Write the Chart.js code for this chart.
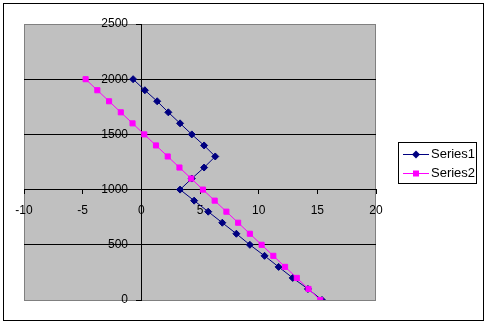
<!DOCTYPE html>
<html>
<head>
<meta charset="utf-8">
<script src="https://cdn.jsdelivr.net/npm/chart.js@4/dist/chart.umd.min.js"></script>
<style>
  html, body { margin: 0; padding: 0; background: #fff; }
  #wrap { width: 490px; height: 326px; }
</style>
</head>
<body>
<div id="wrap"><canvas id="chart" width="490" height="326"></canvas></div>
<script>
const seriesNames = ['Series1', 'Series2'];
const yValues = [2000, 1900, 1800, 1700, 1600, 1500, 1400, 1300, 1200, 1100, 1000, 900, 800, 700, 600, 500, 400, 300, 200, 100, 0];
const series1X = [-0.7, 0.3, 1.35, 2.3, 3.3, 4.3, 5.35, 6.3, 5.35, 4.3, 3.3, 4.5, 5.7, 6.9, 8.1, 9.25, 10.5, 11.7, 12.9, 14.2, 15.4];
const series2X = [-4.75, -3.75, -2.75, -1.75, -0.75, 0.25, 1.25, 2.25, 3.25, 4.25, 5.25, 6.25, 7.25, 8.25, 9.25, 10.25, 11.25, 12.25, 13.25, 14.25, 15.25];
const xTicks = [-10, -5, 0, 5, 10, 15, 20];
const yTicks = [0, 500, 1000, 1500, 2000, 2500];

const FONT = "'Liberation Sans', Arial, sans-serif";
const NAVY = '#000080';
const MAGENTA = '#ff00ff';

function toPoints(xs, ys) {
  return xs.map((x, i) => ({ x, y: ys[i] }));
}

// white page, black frame, grey plot area
const framePlugin = {
  id: 'frame',
  beforeDraw(chart) {
    const { ctx, chartArea: a } = chart;
    ctx.save();
    ctx.fillStyle = '#fff';
    ctx.fillRect(0, 0, chart.width, chart.height);
    ctx.strokeStyle = '#000';
    ctx.lineWidth = 1;
    ctx.strokeRect(3.5, 3.5, 480, 317);
    ctx.fillStyle = '#c0c0c0';
    ctx.fillRect(a.left, a.top, a.right - a.left, a.bottom - a.top);
    ctx.strokeStyle = '#808080';
    ctx.strokeRect(a.left + 0.5, a.top + 0.5, a.right - a.left - 1, a.bottom - a.top);
    ctx.restore();
  },
};

// Excel-style legend box with line + marker samples
const legendBoxPlugin = {
  id: 'legendBox',
  afterDraw(chart) {
    const { ctx } = chart;
    const left = 398, top = 142, width = 78, height = 41;
    ctx.save();
    ctx.fillStyle = '#fff';
    ctx.fillRect(left, top, width, height);
    ctx.strokeStyle = '#000';
    ctx.lineWidth = 1;
    ctx.strokeRect(left + 0.5, top + 0.5, width, height);
    ctx.font = `13px ${FONT}`;
    ctx.textBaseline = 'middle';
    chart.data.datasets.forEach((ds, i) => {
      const y = top + 12.5 + i * 19;
      ctx.strokeStyle = ds.borderColor;
      ctx.beginPath();
      ctx.moveTo(403, y);
      ctx.lineTo(429, y);
      ctx.stroke();
      ctx.fillStyle = ds.borderColor;
      ctx.beginPath();
      if (ds.pointStyle === 'rectRot') {
        ctx.moveTo(416, y - 4);
        ctx.lineTo(420, y);
        ctx.lineTo(416, y + 4);
        ctx.lineTo(412, y);
        ctx.closePath();
      } else {
        ctx.rect(413, y - 3, 6, 6);
      }
      ctx.fill();
      ctx.fillStyle = '#000';
      ctx.fillText(ds.label, 431, y);
    });
    ctx.restore();
  },
};

new Chart(document.getElementById('chart'), {
  type: 'scatter',
  data: {
    datasets: [
      {
        label: seriesNames[0],
        data: toPoints(series1X, yValues),
        showLine: true,
        borderColor: NAVY,
        backgroundColor: NAVY,
        borderWidth: 1,
        pointStyle: 'rectRot',
        pointRadius: 3.5,
        pointBorderWidth: 1,
        order: 1,
      },
      {
        label: seriesNames[1],
        data: toPoints(series2X, yValues),
        showLine: true,
        borderColor: MAGENTA,
        backgroundColor: MAGENTA,
        borderWidth: 1,
        pointStyle: 'rect',
        pointRadius: 3.6,
        pointBorderWidth: 1,
        order: 0,
      },
    ],
  },
  options: {
    responsive: false,
    animation: false,
    events: [],
    layout: {
      autoPadding: false,
      padding: { left: 24, top: 24, right: 114, bottom: 26 },
    },
    plugins: {
      legend: { display: false },
      tooltip: { enabled: false },
    },
    scales: {
      x: {
        type: 'linear',
        position: { y: 1000 },
        min: xTicks[0],
        max: xTicks[xTicks.length - 1],
        afterBuildTicks(scale) {
          scale.ticks = xTicks.map((v) => ({ value: v }));
        },
        ticks: {
          color: '#000',
          font: { family: FONT, size: 12 },
          padding: 10,
          maxRotation: 0,
          callback: (v) => String(v),
        },
        grid: {
          drawOnChartArea: false,
          drawTicks: true,
          tickLength: 4,
          color: '#000',
        },
        border: { color: '#000' },
      },
      y: {
        type: 'linear',
        position: { x: 0 },
        min: yTicks[0],
        max: yTicks[yTicks.length - 1],
        afterBuildTicks(scale) {
          scale.ticks = yTicks.map((v) => ({ value: v }));
        },
        ticks: {
          color: '#000',
          font: { family: FONT, size: 12 },
          // labels are right-aligned on the axis line; trailing spaces leave room for the tick marks
          callback: (v) => `${v}    `,
        },
        grid: {
          color(ctx) {
            const v = ctx.tick && ctx.tick.value;
            return v === yTicks[0] || v === yTicks[yTicks.length - 1] ? 'rgba(0,0,0,0)' : '#000';
          },
          tickColor: '#000',
          tickLength: 5,
        },
        border: { color: '#000' },
      },
    },
  },
  plugins: [framePlugin, legendBoxPlugin],
});
</script>
</body>
</html>
